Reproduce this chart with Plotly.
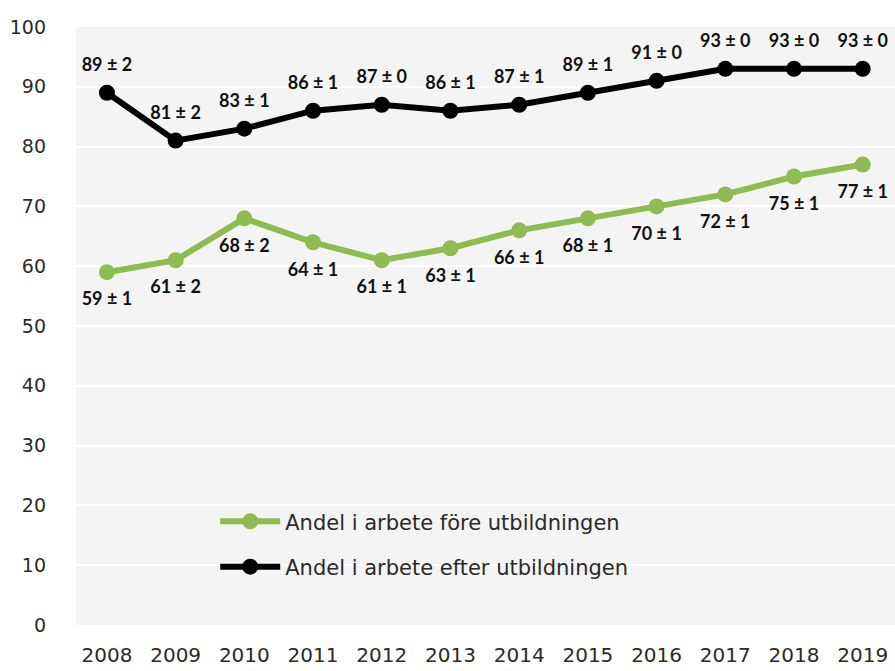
import plotly.graph_objects as go

years = ["2008", "2009", "2010", "2011", "2012", "2013", "2014", "2015", "2016", "2017", "2018", "2019"]
fore_values = [59, 61, 68, 64, 61, 63, 66, 68, 70, 72, 75, 77]
fore_err = [1, 2, 2, 1, 1, 1, 1, 1, 1, 1, 1, 1]
efter_values = [89, 81, 83, 86, 87, 86, 87, 89, 91, 93, 93, 93]
efter_err = [2, 2, 1, 1, 0, 1, 1, 1, 0, 0, 0, 0]
fore_name = "Andel i arbete före utbildningen"
efter_name = "Andel i arbete efter utbildningen"

FONT = "DejaVu Sans, sans-serif"
LFONT = "Lato, Open Sans, sans-serif"
green = "#8fbc52"
label_font = dict(family=LFONT, size=18, color="#111111", weight="bold")

fig = go.Figure()
fig.add_trace(go.Scatter(
    x=years, y=fore_values, name=fore_name, mode="lines+markers",
    line=dict(color=green, width=6), marker=dict(color=green, size=16),
    legendgroup="a",
))
fig.add_trace(go.Scatter(
    x=years, y=efter_values, name=efter_name, mode="lines+markers",
    line=dict(color="black", width=6), marker=dict(color="black", size=16),
    legendgroup="b",
))
# data labels (transparent larger markers push the text further from the points)
fig.add_trace(go.Scatter(
    x=years, y=fore_values, mode="markers+text", showlegend=False, hoverinfo="skip",
    marker=dict(size=30, opacity=0),
    text=[f"{v} ± {e}" for v, e in zip(fore_values, fore_err)],
    textposition="bottom center", textfont=label_font,
))
fig.add_trace(go.Scatter(
    x=years, y=efter_values, mode="markers+text", showlegend=False, hoverinfo="skip",
    marker=dict(size=26, opacity=0),
    text=[f"{v} ± {e}" for v, e in zip(efter_values, efter_err)],
    textposition="top center", textfont=label_font,
))

fig.update_layout(
    width=895, height=671,
    margin=dict(l=76, r=0, t=27, b=46),
    paper_bgcolor="white", plot_bgcolor="#f4f4f4",
    font=dict(family=FONT, size=20, color="#2a2a2a"),
    showlegend=True,
    legend=dict(x=0.17, y=0.207, xanchor="left", yanchor="top",
                bgcolor="rgba(0,0,0,0)", font=dict(family=FONT, size=21, color="#2a2a2a"),
                itemwidth=60, tracegroupgap=15),
    xaxis=dict(type="category", range=[-0.45, 11.47], showgrid=False, zeroline=False,
               ticks="", ticklabelstandoff=16, tickfont=dict(size=20)),
    yaxis=dict(range=[0, 100], dtick=10, showgrid=True, gridcolor="white", gridwidth=2,
               zeroline=False, ticks="", ticklabelstandoff=29, tickfont=dict(size=19)),
)

fig.write_html("out.html", config={"displayModeBar": False},
               post_script="document.body.style.margin='0';")
